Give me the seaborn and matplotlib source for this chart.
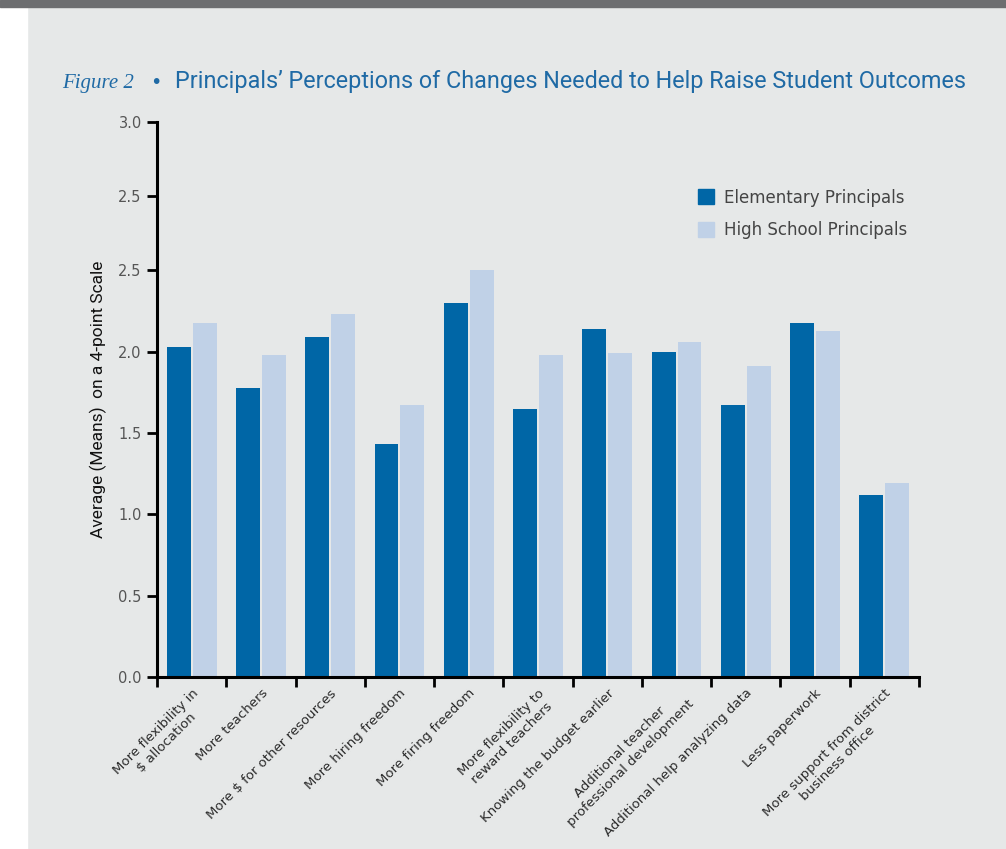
import numpy as np
import pandas as pd
import matplotlib
matplotlib.use("Agg")
import matplotlib.pyplot as plt
import seaborn as sns
from matplotlib.patches import Rectangle

changes = [
    "More flexibility in\n\\$ allocation",
    "More teachers",
    "More \\$ for other resources",
    "More hiring freedom",
    "More firing freedom",
    "More flexibility to\nreward teachers",
    "Knowing the budget earlier",
    "Additional teacher\nprofessional development",
    "Additional help analyzing data",
    "Less paperwork",
    "More support from district\nbusiness office",
]
elementary = [2.03, 1.78, 2.09, 1.43, 2.30, 1.65, 2.14, 2.00, 1.67, 2.18, 1.12]
high_school = [2.18, 1.98, 2.23, 1.67, 2.50, 1.98, 1.99, 2.06, 1.91, 2.13, 1.19]
groups = ["Elementary Principals", "High School Principals"]
# tick labels as printed in the original (note the repeated 2.5)
ytick_labels = ["0.0", "0.5", "1.0", "1.5", "2.0", "2.5", "2.5", "3.0"]

bg = "#e6e8e8"
blue = "#0066a6"
light = "#c0d1e7"
title_blue = "#1f6aa5"

df = pd.DataFrame({
    "change": changes * 2,
    "mean": elementary + high_school,
    "group": [groups[0]] * len(changes) + [groups[1]] * len(changes),
})

sns.set_style("ticks")
plt.rcParams["font.family"] = ["DejaVu Sans"]

fig = plt.figure(figsize=(10.06, 8.49), dpi=100, facecolor=bg)
# white strip on the left and dark band on top
fig.patches.append(Rectangle((0, 0), 27 / 1006, 1, transform=fig.transFigure, color="white", zorder=0))
fig.patches.append(Rectangle((0, 1 - 7 / 849), 1, 7 / 849, transform=fig.transFigure, color="#6d6e70", zorder=1))

ax = fig.add_axes([157 / 1006, 1 - 677 / 849, 762 / 1006, 555 / 849])
ax.set_facecolor(bg)

sns.barplot(data=df, x="change", y="mean", hue="group", palette=[blue, light],
            width=0.75, gap=0.08, saturation=1, linewidth=0, edgecolor="none",
            ax=ax, legend=False)

ax.set_xlim(-0.5, len(changes) - 0.5)
ax.set_ylim(0, 3.413)

ax.set_yticks([0, 0.5, 1.0, 1.5, 2.0, 2.5, 2.958, 3.413])
ax.set_yticklabels(ytick_labels, fontsize=10.5, color="#555555")
ax.tick_params(axis="y", length=7, width=2, color="black", pad=4)

ax.set_xticks(np.arange(-0.5, len(changes)))
ax.set_xticklabels([])
ax.tick_params(axis="x", which="major", length=7, width=2, color="black", direction="out")
ax.set_xticks(np.arange(len(changes)), minor=True)
ax.set_xticklabels(changes, minor=True, rotation=45, ha="right", rotation_mode="anchor",
                   fontsize=9.5, color="#2a2a2a", multialignment="center")
ax.tick_params(axis="x", which="minor", length=0, pad=7)

ax.set_xlabel("")
ax.set_ylabel("Average (Means)  on a 4-point Scale", fontsize=12.5, color="#111111",
              family="Roboto", labelpad=8)

sns.despine(ax=ax)
for s in ["left", "bottom"]:
    ax.spines[s].set_linewidth(2.2)
    ax.spines[s].set_color("black")

handles = [Rectangle((0, 0), 1, 1, color=blue), Rectangle((0, 0), 1, 1, color=light)]
ax.legend(handles, groups, loc="upper left", bbox_to_anchor=(0.69, 0.907), frameon=False,
          handlelength=1.0, handleheight=1.0, handletextpad=0.6, labelspacing=0.85,
          prop={"size": 12}, labelcolor="#444444")

fig.text(62 / 1006, 1 - 88 / 849, "Figure 2", family="Liberation Serif", style="italic",
         fontsize=15, color=title_blue)
fig.text(150 / 1006, 1 - 88 / 849, "\u2022", fontsize=14, color=title_blue)
fig.text(175 / 1006, 1 - 88 / 849,
         "Principals\u2019 Perceptions of Changes Needed to Help Raise Student Outcomes",
         fontsize=16.8, family="Roboto", color=title_blue)

fig.savefig("out.png", dpi=100, facecolor=bg)
